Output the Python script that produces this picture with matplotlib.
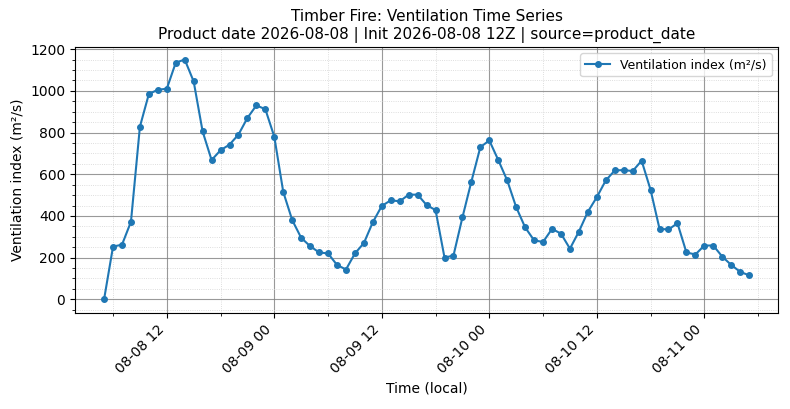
import matplotlib
matplotlib.use("Agg")
import matplotlib.pyplot as plt
import matplotlib.dates as mdates
import pandas as pd

start = "2026-08-08 05:00"
values = [0, 253, 262, 372, 828, 985, 1005, 1010, 1135, 1150, 1045, 805, 668, 715, 742, 790,
          870, 930, 912, 780, 515, 380, 295, 255, 225, 220, 165, 143, 220, 270, 370, 448,
          475, 470, 502, 502, 452, 428, 200, 210, 393, 565, 730, 762, 668, 570, 442, 345,
          283, 275, 338, 315, 243, 325, 420, 490, 570, 618, 620, 615, 665, 525, 338, 335,
          365, 225, 215, 258, 258, 205, 165, 132, 115]
times = pd.date_range(start, periods=len(values), freq="h")

fig, ax = plt.subplots(figsize=(7.9, 4.09), dpi=100)
ax.plot(times, values, marker="o", markersize=4, color="#1f77b4", linewidth=1.5,
        label="Ventilation index (m²/s)")
ax.set_title("Timber Fire: Ventilation Time Series\nProduct date 2026-08-08 | Init 2026-08-08 12Z | source=product_date", fontsize=11)
ax.set_xlabel("Time (local)")
ax.set_ylabel("Ventilation index (m²/s)")
ax.xaxis.set_major_locator(mdates.HourLocator(byhour=[0, 12]))
ax.xaxis.set_major_formatter(mdates.DateFormatter("%m-%d %H"))
ax.xaxis.set_minor_locator(mdates.HourLocator(byhour=range(0, 24, 6)))
ax.yaxis.set_minor_locator(matplotlib.ticker.AutoMinorLocator(4))
ax.grid(True, which="major", color="gray", linewidth=0.8, alpha=0.8)
ax.grid(True, which="minor", color="lightgray", linestyle=":", linewidth=0.6)
ax.set_ylim(-65, 1210)
ax.margins(x=0.045)
plt.setp(ax.get_xticklabels(), rotation=45, ha="right")
ax.legend(loc="upper right", fontsize=9)
fig.subplots_adjust(left=0.095, right=0.985, top=0.885, bottom=0.235)
fig.savefig("out.png")
